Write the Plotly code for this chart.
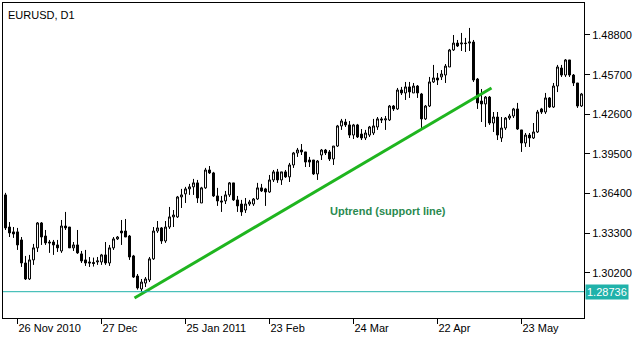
import plotly.graph_objects as go

# ---- data (EURUSD daily candles) ----
opens = [1.3630, 1.3379, 1.3341, 1.3341, 1.3278, 1.3098, 1.2973, 1.3122, 1.3216, 1.3411,
         1.3309, 1.3262, 1.3262, 1.3239, 1.3192, 1.3387, 1.3379, 1.3216, 1.3239, 1.3169,
         1.3122, 1.3106, 1.3102, 1.3106, 1.3106, 1.3161, 1.3098, 1.3216, 1.3286, 1.3348,
         1.3348, 1.3309, 1.3153, 1.2996, 1.2895, 1.2941, 1.2965, 1.3130, 1.3348, 1.3372,
         1.3270, 1.3379, 1.3458, 1.3458, 1.3614, 1.3638, 1.3677, 1.3693, 1.3724, 1.3567,
         1.3685, 1.3825, 1.3802, 1.3622, 1.3583, 1.3583, 1.3630, 1.3724, 1.3591, 1.3559,
         1.3512, 1.3559, 1.3559, 1.3598, 1.3685, 1.3677, 1.3653, 1.3747, 1.3810, 1.3747,
         1.3810, 1.3771, 1.3864, 1.3958, 1.3981, 1.3966, 1.3903, 1.3903, 1.3794, 1.3942,
         1.3981, 1.3966, 1.3911, 1.4012, 1.4169, 1.4200, 1.4177, 1.4098, 1.4177, 1.4106,
         1.4075, 1.4098, 1.4114, 1.4161, 1.4224, 1.4216, 1.4216, 1.4325, 1.4302, 1.4450,
         1.4427, 1.4474, 1.4427, 1.4481, 1.4419, 1.4224, 1.4325, 1.4513, 1.4544, 1.4552,
         1.4567, 1.4630, 1.4763, 1.4817, 1.4810, 1.4817, 1.4817, 1.4825, 1.4536, 1.4364,
         1.4341, 1.4395, 1.4192, 1.4239, 1.4075, 1.4153, 1.4231, 1.4247, 1.4302, 1.4138,
         1.4036, 1.4098, 1.4075, 1.4122, 1.4302, 1.4278, 1.4388, 1.4317, 1.4481, 1.4622,
         1.4567, 1.4685, 1.4567, 1.4505, 1.4325]
highs = [1.3646, 1.3418, 1.3379, 1.3372, 1.3301, 1.3153, 1.3161, 1.3247, 1.3418, 1.3418,
         1.3356, 1.3278, 1.3278, 1.3278, 1.3434, 1.3497, 1.3379, 1.3262, 1.3356, 1.3192,
         1.3200, 1.3145, 1.3140, 1.3145, 1.3169, 1.3262, 1.3239, 1.3301, 1.3309, 1.3434,
         1.3442, 1.3317, 1.3161, 1.3012, 1.2973, 1.2988, 1.3145, 1.3379, 1.3426, 1.3379,
         1.3426, 1.3536, 1.3512, 1.3622, 1.3677, 1.3693, 1.3716, 1.3755, 1.3747, 1.3693,
         1.3841, 1.3856, 1.3810, 1.3685, 1.3622, 1.3661, 1.3731, 1.3724, 1.3622, 1.3591,
         1.3606, 1.3591, 1.3606, 1.3724, 1.3716, 1.3685, 1.3786, 1.3825, 1.3833, 1.3810,
         1.3825, 1.3880, 1.3966, 1.3997, 1.4028, 1.3966, 1.3927, 1.3903, 1.3903, 1.3989,
         1.3989, 1.3981, 1.4012, 1.4177, 1.4224, 1.4224, 1.4208, 1.4185, 1.4185, 1.4145,
         1.4138, 1.4169, 1.4224, 1.4239, 1.4239, 1.4247, 1.4333, 1.4333, 1.4466, 1.4474,
         1.4513, 1.4513, 1.4505, 1.4489, 1.4427, 1.4333, 1.4552, 1.4646, 1.4583, 1.4606,
         1.4653, 1.4771, 1.4880, 1.4841, 1.4896, 1.4857, 1.4935, 1.4841, 1.4544, 1.4458,
         1.4403, 1.4403, 1.4278, 1.4278, 1.4239, 1.4239, 1.4263, 1.4310, 1.4349, 1.4138,
         1.4114, 1.4114, 1.4192, 1.4294, 1.4310, 1.4427, 1.4395, 1.4505, 1.4646, 1.4646,
         1.4692, 1.4685, 1.4575, 1.4505, 1.4427]
lows = [1.3356, 1.3301, 1.3294, 1.3200, 1.3067, 1.2965, 1.2965, 1.3083, 1.3184, 1.3239,
        1.3239, 1.3177, 1.3161, 1.3184, 1.3177, 1.3356, 1.3216, 1.3192, 1.3169, 1.3098,
        1.3075, 1.3067, 1.3070, 1.3083, 1.3083, 1.3083, 1.3075, 1.3200, 1.3278, 1.3239,
        1.3301, 1.3122, 1.2981, 1.2890, 1.2874, 1.2910, 1.2949, 1.3122, 1.3333, 1.3247,
        1.3255, 1.3364, 1.3379, 1.3450, 1.3528, 1.3567, 1.3630, 1.3630, 1.3567, 1.3567,
        1.3677, 1.3794, 1.3614, 1.3544, 1.3497, 1.3559, 1.3614, 1.3583, 1.3497, 1.3466,
        1.3489, 1.3544, 1.3544, 1.3591, 1.3653, 1.3544, 1.3646, 1.3731, 1.3724, 1.3708,
        1.3763, 1.3731, 1.3841, 1.3927, 1.3942, 1.3848, 1.3848, 1.3786, 1.3747, 1.3903,
        1.3942, 1.3895, 1.3864, 1.4005, 1.4138, 1.4161, 1.4075, 1.4067, 1.4075, 1.4059,
        1.4059, 1.4083, 1.4098, 1.4138, 1.4192, 1.4138, 1.4208, 1.4286, 1.4294, 1.4411,
        1.4372, 1.4388, 1.4427, 1.4388, 1.4153, 1.4216, 1.4317, 1.4505, 1.4489, 1.4528,
        1.4505, 1.4630, 1.4755, 1.4786, 1.4755, 1.4747, 1.4755, 1.4513, 1.4302, 1.4200,
        1.4161, 1.4177, 1.4122, 1.4059, 1.4044, 1.4138, 1.4216, 1.4231, 1.4138, 1.3966,
        1.4005, 1.4005, 1.4067, 1.4114, 1.4263, 1.4263, 1.4310, 1.4310, 1.4434, 1.4552,
        1.4552, 1.4552, 1.4481, 1.4310, 1.4317]
closes = [1.3372, 1.3333, 1.3325, 1.3239, 1.3098, 1.2973, 1.3122, 1.3216, 1.3411, 1.3301,
          1.3255, 1.3255, 1.3239, 1.3216, 1.3387, 1.3372, 1.3216, 1.3239, 1.3177, 1.3114,
          1.3098, 1.3098, 1.3094, 1.3114, 1.3161, 1.3098, 1.3216, 1.3286, 1.3301, 1.3333,
          1.3301, 1.3145, 1.2988, 1.2903, 1.2949, 1.2973, 1.3130, 1.3348, 1.3372, 1.3270,
          1.3379, 1.3458, 1.3473, 1.3614, 1.3630, 1.3677, 1.3693, 1.3724, 1.3606, 1.3685,
          1.3825, 1.3802, 1.3622, 1.3583, 1.3575, 1.3630, 1.3724, 1.3591, 1.3544, 1.3497,
          1.3559, 1.3575, 1.3598, 1.3685, 1.3661, 1.3653, 1.3747, 1.3810, 1.3747, 1.3810,
          1.3771, 1.3864, 1.3958, 1.3981, 1.3966, 1.3887, 1.3887, 1.3794, 1.3895, 1.3981,
          1.3958, 1.3911, 1.4012, 1.4169, 1.4208, 1.4177, 1.4098, 1.4177, 1.4083, 1.4075,
          1.4114, 1.4161, 1.4169, 1.4224, 1.4216, 1.4224, 1.4325, 1.4302, 1.4450, 1.4427,
          1.4474, 1.4435, 1.4481, 1.4427, 1.4224, 1.4325, 1.4513, 1.4544, 1.4528, 1.4575,
          1.4637, 1.4763, 1.4817, 1.4794, 1.4817, 1.4813, 1.4825, 1.4528, 1.4349, 1.4341,
          1.4395, 1.4192, 1.4239, 1.4098, 1.4153, 1.4231, 1.4247, 1.4302, 1.4145, 1.4036,
          1.4098, 1.4075, 1.4122, 1.4278, 1.4278, 1.4388, 1.4317, 1.4481, 1.4630, 1.4567,
          1.4685, 1.4567, 1.4505, 1.4325, 1.4419]

date_tick_bars = [3, 24, 45, 66, 87, 108, 129]
date_tick_labels = ["26 Nov 2010", "27 Dec", "25 Jan 2011", "23 Feb", "24 Mar", "22 Apr", "23 May"]
price_ticks = [1.30200, 1.33300, 1.36400, 1.39500, 1.42600, 1.45700, 1.48800]
price_tick_labels = ["1.30200", "1.33300", "1.36400", "1.39500", "1.42600", "1.45700", "1.48800"]

low_level = 1.28736
trend_x = [32.25, 121.5]
trend_y = [1.2824, 1.4466]
trend_label = "Uptrend (support line)"
trend_label_pos = (95.5, 1.3505)
title_text = "EURUSD, D1"

bars = list(range(len(opens)))
FONT = "Liberation Sans, Arial, sans-serif"

fig = go.Figure()
fig.add_trace(go.Candlestick(
    x=bars, open=opens, high=highs, low=lows, close=closes,
    increasing=dict(line=dict(color="black", width=1), fillcolor="white"),
    decreasing=dict(line=dict(color="black", width=1), fillcolor="black"),
    whiskerwidth=0, showlegend=False, hoverinfo="skip",
))
fig.add_trace(go.Scatter(
    x=trend_x, y=trend_y, mode="lines",
    line=dict(color="#1fb51f", width=3), showlegend=False, hoverinfo="skip",
))

fig.add_shape(type="line", xref="paper", x0=0, x1=1, yref="y", y0=low_level, y1=low_level,
              line=dict(color="#20b2aa", width=1))

fig.add_annotation(x=trend_label_pos[0], y=trend_label_pos[1], xref="x", yref="y",
                   text="<b>" + trend_label + "</b>", showarrow=False,
                   font=dict(family=FONT, size=11, color="#2a8a50"))
fig.add_annotation(x=0, y=1, xref="paper", yref="paper", xanchor="left", yanchor="top",
                   xshift=3, yshift=-4, text=title_text, showarrow=False,
                   font=dict(family=FONT, size=11, color="black"))
fig.add_annotation(x=1, y=low_level, xref="paper", yref="y", xanchor="left", yanchor="middle",
                   xshift=1, text=f"{low_level:.5f}", showarrow=False,
                   bgcolor="#20b2aa", borderpad=1,
                   font=dict(family=FONT, size=11, color="white"))

fig.update_layout(
    width=644, height=340,
    margin=dict(l=3, r=60, t=3, b=22),
    paper_bgcolor="white", plot_bgcolor="white",
    font=dict(family=FONT, size=11, color="black"),
    showlegend=False,
)
fig.update_xaxes(
    range=[-0.625, 144.625], rangeslider=dict(visible=False),
    tickmode="array", tickvals=date_tick_bars, ticktext=date_tick_labels,
    ticks="outside", ticklen=5, tickcolor="black", ticklabelposition="outside right",
    showgrid=False, zeroline=False,
    showline=True, linecolor="black", linewidth=1, mirror=True,
    tickfont=dict(family=FONT, size=11, color="black"),
)
fig.update_yaxes(
    range=[1.2668, 1.5130], side="right",
    tickmode="array", tickvals=price_ticks, ticktext=price_tick_labels,
    ticks="outside", ticklen=5, tickcolor="black",
    showgrid=False, zeroline=False,
    showline=True, linecolor="black", linewidth=1, mirror=True,
    tickfont=dict(family=FONT, size=11, color="black"),
)

fig.write_html("out.html")
